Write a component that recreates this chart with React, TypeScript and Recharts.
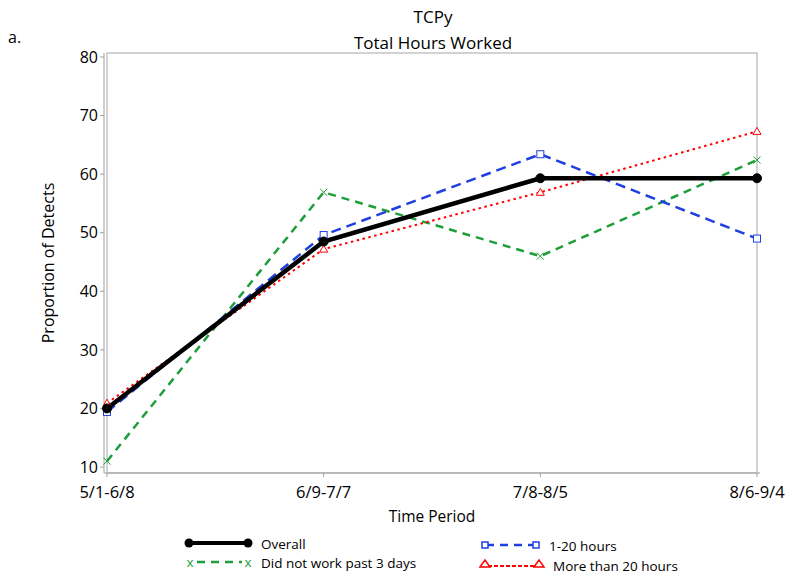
import { LineChart, Line, XAxis, YAxis, ReferenceArea } from "recharts";

const periods = ["5/1-6/8", "6/9-7/7", "7/8-8/5", "8/6-9/4"];
const overall = [20, 48.5, 59.3, 59.3];
const hours1to20 = [19.4, 49.6, 63.4, 49];
const didNotWork = [11, 56.9, 46, 62.4];
const moreThan20 = [20.9, 47.2, 56.9, 67.3];
const yTicks = [10, 20, 30, 40, 50, 60, 70, 80];

const Y_MIN = 8.98;
const Y_MAX = 80.68;

const data = periods.map((p, i) => ({
  period: p,
  overall: overall[i],
  h1to20: hours1to20[i],
  notWork: didNotWork[i],
  more20: moreThan20[i],
}));

const FONT = "'Open Sans', sans-serif";
const AXIS = "#a0a0a0";

const CrossDot = (props: any) => {
  const { cx, cy, stroke } = props;
  if (cx == null || cy == null) return null;
  const s = 3.5;
  return (
    <g stroke={stroke} strokeWidth={1}>
      <line x1={cx - s} y1={cy - s} x2={cx + s} y2={cy + s} />
      <line x1={cx - s} y1={cy + s} x2={cx + s} y2={cy - s} />
    </g>
  );
};

const SquareDot = (props: any) => {
  const { cx, cy, stroke } = props;
  if (cx == null || cy == null) return null;
  return <rect x={cx - 3.5} y={cy - 3.5} width={7} height={7} fill="#fff" stroke={stroke} strokeWidth={1} />;
};

const TriDot = (props: any) => {
  const { cx, cy, stroke } = props;
  if (cx == null || cy == null) return null;
  return (
    <polygon
      points={`${cx},${cy - 4} ${cx - 4},${cy + 3} ${cx + 4},${cy + 3}`}
      fill="#fff"
      stroke={stroke}
      strokeWidth={1}
    />
  );
};

// legend drawn by hand, laid out like the original two-column key
const LegendBox = () => (
  <svg width={786} height={50} style={{ position: "absolute", left: 0, top: 526, fontFamily: FONT, fontSize: 13.5 }}>
    {/* Overall */}
    <line x1={189} y1={17} x2={248} y2={17} stroke="#000" strokeWidth={4} />
    <circle cx={189} cy={17} r={4.5} fill="#000" />
    <circle cx={248} cy={17} r={4.5} fill="#000" />
    <text x={261} y={23} fill="#000">Overall</text>
    {/* did not work */}
    <line x1={197} y1={36} x2={242} y2={36} stroke="#1e9e3a" strokeWidth={2.5} strokeDasharray="8 6" />
    <text x={190} y={41} fill="#1e9e3a" textAnchor="middle">x</text>
    <text x={248} y={41} fill="#1e9e3a" textAnchor="middle">x</text>
    <text x={261} y={42} fill="#000">Did not work past 3 days</text>
    {/* 1-20 */}
    <line x1={486} y1={19} x2={534} y2={19} stroke="#1f3fe0" strokeWidth={2.5} strokeDasharray="8 6" />
    <rect x={482} y={16} width={6} height={6} fill="#fff" stroke="#1f3fe0" strokeWidth={1.5} />
    <rect x={533} y={16} width={6} height={6} fill="#fff" stroke="#1f3fe0" strokeWidth={1.5} />
    <text x={549} y={25} fill="#000">1-20 hours</text>
    {/* more than 20 */}
    <line x1={488} y1={40} x2={538} y2={40} stroke="#f00" strokeWidth={2} strokeDasharray="4 2" />
    <polygon points="485,34 480,41 490,41" fill="#fff" stroke="#f00" strokeWidth={1.5} />
    <polygon points="539,34 534,41 544,41" fill="#fff" stroke="#f00" strokeWidth={1.5} />
    <text x={553} y={45} fill="#000">More than 20 hours</text>
  </svg>
);

export default function App() {
  return (
    <div style={{ position: "absolute", left: 0, top: 0, width: 786, height: 576, background: "#fff", fontFamily: FONT }}>
      <div style={{ position: "absolute", left: 0, width: 866, top: 4, textAlign: "center", fontSize: 17, lineHeight: "26px", color: "#000" }}>
        TCPy
        <br />
        Total Hours Worked
      </div>
      <div style={{ position: "absolute", left: 8, top: 26, fontSize: 16, color: "#000" }}>a.</div>
      <LineChart
        width={786}
        height={576}
        data={data}
        margin={{ top: 53, right: 26, bottom: 73, left: 0 }}
        style={{ fontFamily: FONT }}
      >
        <ReferenceArea y1={Y_MIN} y2={Y_MAX} fill="none" stroke="#c4c4c4" strokeWidth={1.5} ifOverflow="visible" />
        <XAxis
          dataKey="period"
          padding={{ left: 3, right: 3 }}
          stroke={AXIS}
          tickSize={4}
          tick={{ fill: "#000", fontSize: 16.5 }}
          tickMargin={9}
          height={30}
          label={{ value: "Time Period", position: "insideBottom", offset: -19, fill: "#000", fontSize: 15.5 }}
        />
        <YAxis
          domain={[Y_MIN, Y_MAX]}
          ticks={yTicks}
          allowDataOverflow
          width={104}
          stroke={AXIS}
          tickSize={4}
          tick={{ fill: "#000", fontSize: 16 }}
          label={{ value: "Proportion of Detects", angle: -90, position: "insideLeft", offset: 48, fill: "#000", fontSize: 16, style: { textAnchor: "middle" } }}
        />
        <Line
          dataKey="notWork"
          stroke="#1e9e3a"
          strokeWidth={2.5}
          strokeDasharray="8 6"
          dot={<CrossDot />}
          isAnimationActive={false}
        />
        <Line
          dataKey="more20"
          stroke="#f00"
          strokeWidth={2}
          strokeDasharray="2.5 3.5"
          dot={<TriDot />}
          isAnimationActive={false}
        />
        <Line
          dataKey="h1to20"
          stroke="#1f3fe0"
          strokeWidth={2.5}
          strokeDasharray="10 6"
          dot={<SquareDot />}
          isAnimationActive={false}
        />
        <Line
          dataKey="overall"
          stroke="#000"
          strokeWidth={4.5}
          dot={{ r: 4.5, fill: "#000", stroke: "#000", strokeWidth: 1 }}
          isAnimationActive={false}
        />
      </LineChart>
      <LegendBox />
    </div>
  );
}
